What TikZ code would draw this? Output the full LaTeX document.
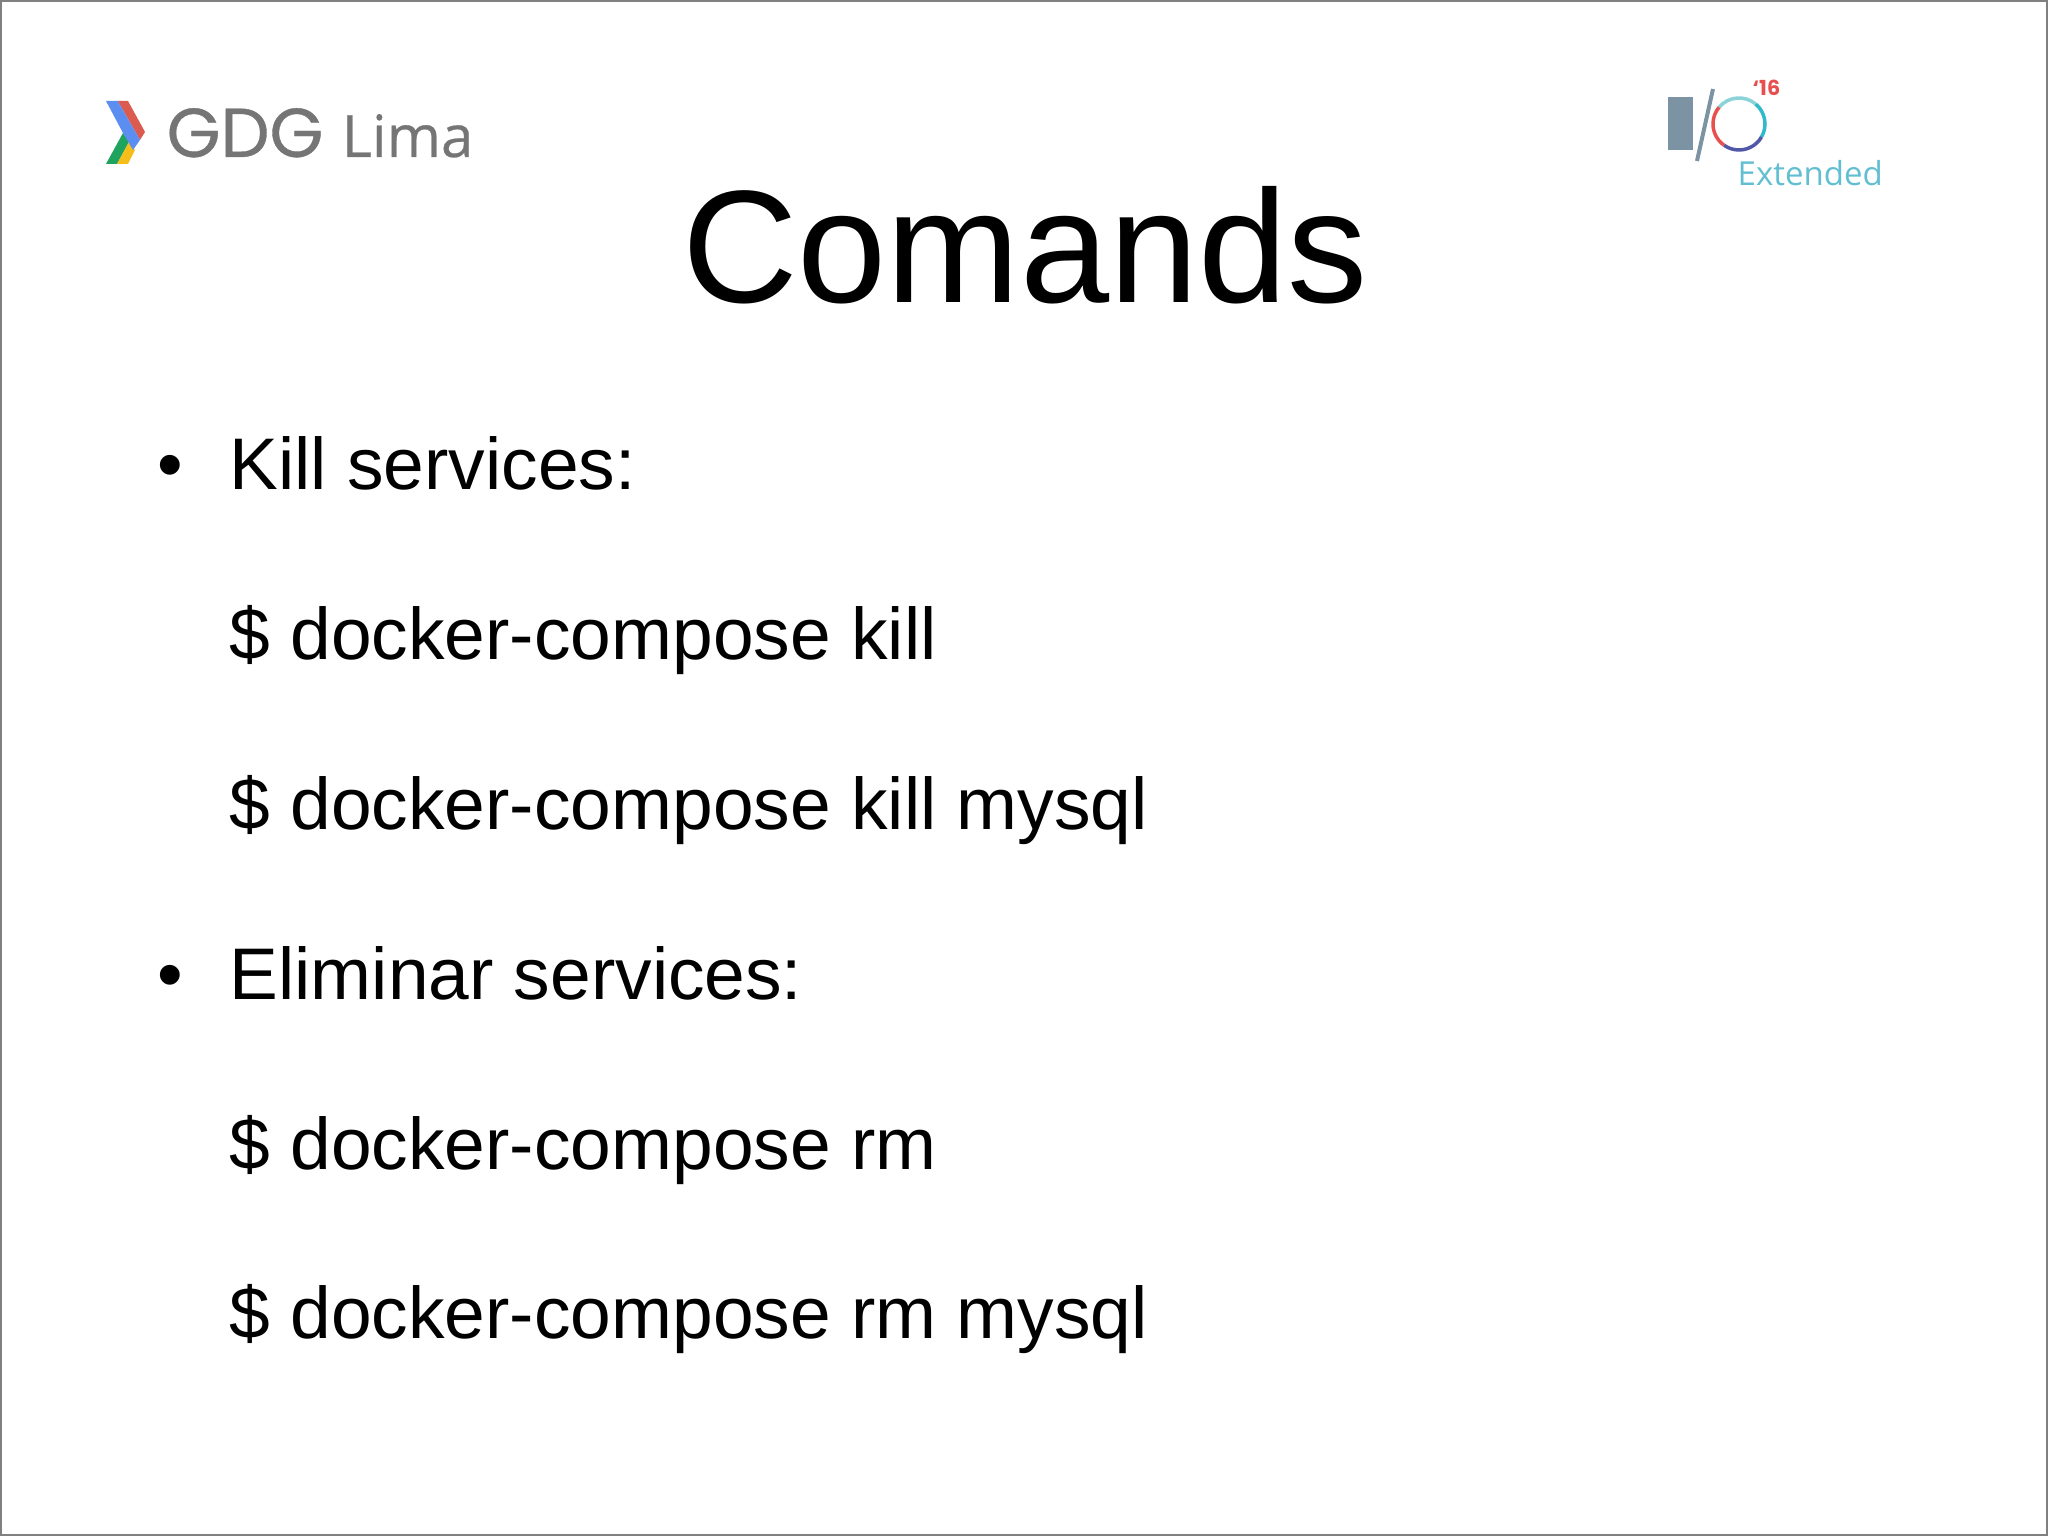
\documentclass[tikz,border=0pt]{standalone}
\usepackage{fontspec}
\setmainfont{Liberation Sans}
\newfontfamily\logofont{Poppins}
\newfontfamily\gdgfont[FakeBold=0.5]{Poppins}
\newfontfamily\limafont[FakeBold=0.4]{Open Sans}
\newfontfamily\extfont{Open Sans}
\usetikzlibrary{positioning}
\definecolor{gdggrey}{HTML}{757575}
\definecolor{gdgblue}{HTML}{5C8DF0}
\definecolor{gdgred}{HTML}{DB5B4E}
\definecolor{gdggreen}{HTML}{1FA45F}
\definecolor{gdgyellow}{HTML}{F6BE1B}
\definecolor{ioslate}{HTML}{7B93A2}
\definecolor{ioteal}{HTML}{2FB9CB}
\definecolor{iopale}{HTML}{8CD3D9}
\definecolor{iopurple}{HTML}{5158A8}
\definecolor{iored}{HTML}{E8504F}
\definecolor{extcol}{HTML}{62BFD2}

\begin{document}
\begin{tikzpicture}[
    % --- text styles ---
    ttl/.style={anchor=base, font=\fontsize{45.6}{52}\selectfont, inner sep=0pt},
    item/.style={anchor=base west, font=\fontsize{20.8}{25}\selectfont, inner sep=0pt},
    bul/.style={anchor=base, font=\fontsize{20.8}{25}\selectfont, inner sep=0pt},
    % --- logo styles ---
    gdgtxt/.style={anchor=base west, text=gdggrey, inner sep=0pt},
    arc/.style={line width=0.035cm},
]

%% =====================================================================
%%  COORDINATES (cm)
%%  1 cm = 100 px of the slide, slide = 20.48 x 15.36
%%  Text col: 2.29   |   Bullet col: 1.70
%% =====================================================================

%% ---- SLIDE ----
\useasboundingbox (0,0) rectangle (20.48,15.36);
\fill[white] (0,0) rectangle (20.48,15.36);
\draw[gray, line width=0.02cm] (0.01,0.01) rectangle (20.47,15.35);

%% ---- GDG LOGO ----
\fill[gdgred]    (1.177,14.35) -- (1.28,14.35) -- (1.45,14.04) -- (1.40,13.96) -- cycle;
\fill[gdggreen]  (1.06,13.72) -- (1.17,13.72) -- (1.29,13.94) -- (1.23,14.03) -- cycle;
\fill[gdgyellow] (1.17,13.72) -- (1.28,13.72) -- (1.35,13.86) -- (1.29,13.94) -- cycle;
\fill[gdgblue]   (1.06,14.35) -- (1.177,14.35) -- (1.40,13.96) -- (1.33,13.86) -- (1.23,14.03) -- cycle;
\node[gdgtxt, font=\gdgfont\fontsize{19.7}{24}\selectfont] (gdg) at (1.66,13.79) {GDG};
\node[gdgtxt, font=\limafont\fontsize{16.6}{22}\selectfont] (lima) at (3.41,13.79) {Lima};

%% ---- I/O LOGO ----
\fill[ioslate] (16.68,14.39) rectangle (16.93,13.86);
\draw[ioslate, line width=0.04cm] (17.13,14.47) -- (16.97,13.75);
\draw[arc, iopale]   (17.39,14.12) ++(50:0.26) arc (50:140:0.26);
\draw[arc, ioteal]   (17.39,14.12) ++(-30:0.26) arc (-30:50:0.26);
\draw[arc, iopurple] (17.39,14.12) ++(-125:0.26) arc (-125:-30:0.26);
\draw[arc, iored]    (17.39,14.12) ++(140:0.26) arc (140:235:0.26);
\node[anchor=base west, inner sep=0pt, text=iored, font=\logofont\bfseries\fontsize{5.9}{8}\selectfont] (io16) at (17.52,14.40) {‘16};
\node[anchor=base west, inner sep=0pt, text=extcol, font=\extfont\fontsize{9.4}{12}\selectfont] (ext) at (17.37,13.50) {Extended};

%% ---- TITLE ----
\node[ttl] (title) at (10.25,12.33) {Comands};

%% ---- FIRST BLOCK ----
\node[bul] (bula) at (1.70,10.46) {•};
\node[item] (kill) at (2.29,10.46) {Kill services:};
\node[item] (killall) at (2.29,8.76) {\$ docker-compose kill};
\node[item] (killone) at (2.29,7.06) {\$ docker-compose kill mysql};

%% ---- SECOND BLOCK ----
\node[bul] (bulb) at (1.70,5.36) {•};
\node[item] (elim) at (2.29,5.36) {Eliminar services:};
\node[item] (rmall) at (2.29,3.66) {\$ docker-compose rm};
\node[item] (rmone) at (2.29,1.97) {\$ docker-compose rm mysql};

\end{tikzpicture}
\end{document}
